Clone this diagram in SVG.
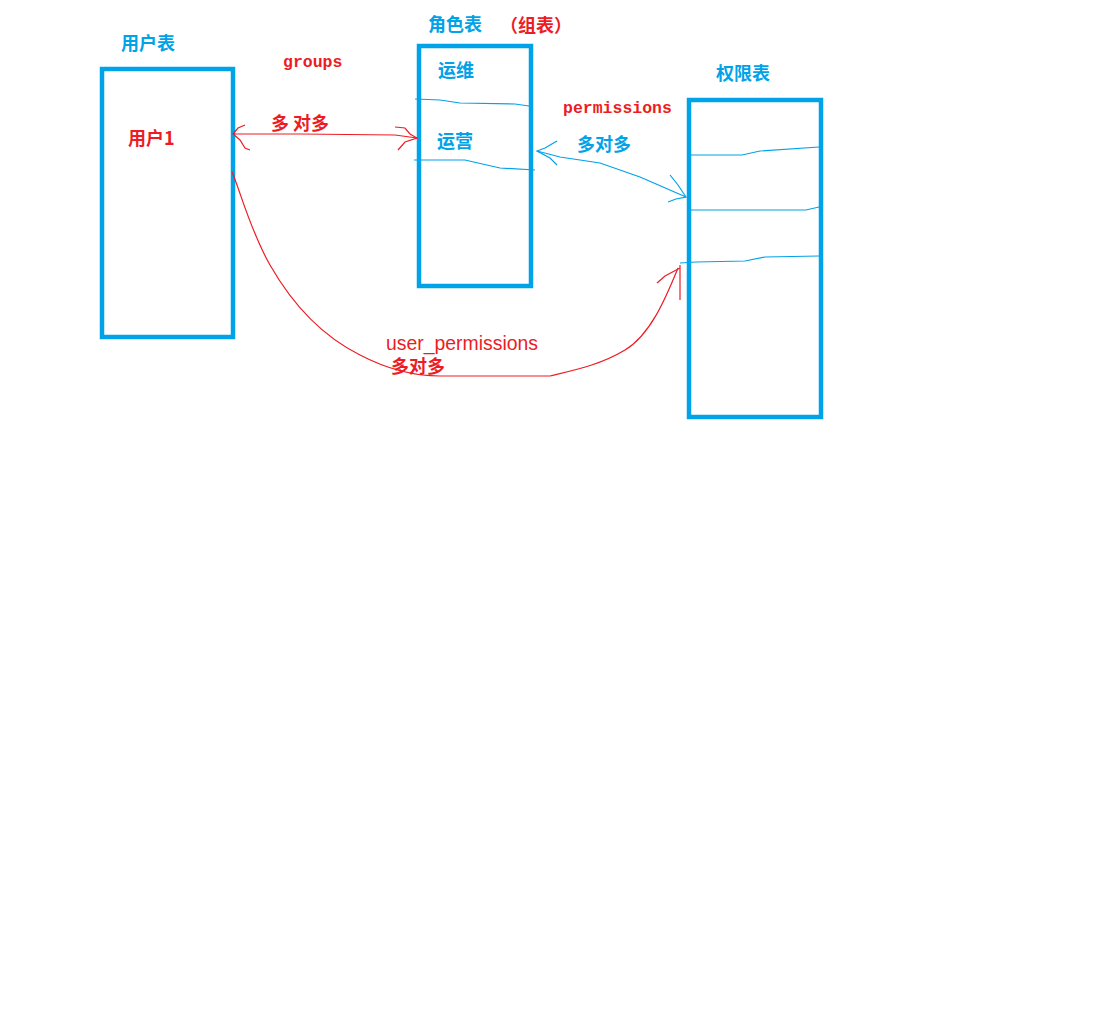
<svg xmlns="http://www.w3.org/2000/svg" width="1116" height="1022" viewBox="0 0 1116 1022">
<style>
.box{fill:none;stroke:#00A2E8;stroke-width:4.5}
.bl{fill:none;stroke:#00A2E8;stroke-width:1.2}
.rl{fill:none;stroke:#ED1C24;stroke-width:1.2}
.tb{fill:#00A2E8;font-family:"Noto Sans CJK SC","Noto Sans",sans-serif;font-size:18px;font-weight:bold}
.tr{fill:#ED1C24;font-family:"Noto Sans CJK SC","Noto Sans",sans-serif;font-size:18px;font-weight:bold}
.ts{fill:#ED1C24;font-family:"Liberation Mono","Noto Sans CJK SC",monospace;font-size:16.5px;font-weight:bold}
.ta{fill:#ED1C24;font-family:"Liberation Sans",sans-serif;font-size:19.4px}
</style>
<rect width="1116" height="1022" fill="#fff"/>
<g id="user-table">
<rect class="box" x="102" y="69" width="131" height="268"/>
<text class="tb" x="121" y="50">用户表</text>
<text class="tr" x="128" y="145">用户1</text>
</g>
<g id="role-table">
<rect class="box" x="419" y="46" width="112" height="240"/>
<text class="tb" x="428" y="31">角色表</text>
<text class="tr" x="500" y="32">（组表）</text>
<text class="tb" x="438" y="77">运维</text>
<text class="tb" x="437" y="148">运营</text>
<polyline class="bl" points="415,99 440,100 460,103 515,104 529,106"/>
<polyline class="bl" points="414,160 465,160 500,168 535,170"/>
</g>
<g id="perm-table">
<rect class="box" x="689" y="100" width="132" height="317"/>
<text class="tb" x="716" y="80">权限表</text>
<polyline class="bl" points="691,155 742,155 760,151 819,147"/>
<polyline class="bl" points="691,210 806,210 819,207"/>
<polyline class="bl" points="680,263 696,262 745,261 765,257 819,256"/>
</g>
<g id="connectors">
<text class="ts" x="283" y="67">groups</text>
<text class="tr" x="271" y="130">多 对多</text>
<polyline class="rl" points="233,134 300,134 395,135 417,138"/>
<polyline class="rl" points="245,125 238,128 233,134 240,140 245,148 250,150"/>
<polyline class="rl" points="395,127 405,128 410,134 417,138 405,142 398,150"/>
<text class="ts" x="563" y="113">permissions</text>
<text class="tb" x="577" y="151">多对多</text>
<polyline class="bl" points="537,151 560,157 600,163 640,177 686,197"/>
<polyline class="bl" points="557,141 545,148 537,151 550,158 557,165"/>
<polyline class="bl" points="670,175 678,185 686,197 676,199 668,202"/>
<path class="rl" d="M232,172 C240,190 250,230 270,265 C290,300 320,335 360,355 C385,368 410,376 440,376 L550,376 C575,370 600,365 625,350 C650,335 665,300 678,268"/>
<polyline class="rl" points="680,265 680,300"/>
<polyline class="rl" points="657,283 665,276 680,268"/>
<text class="ta" x="386" y="350">user_permissions</text>
<text class="tr" x="391" y="373">多对多</text>
</g>
</svg>
